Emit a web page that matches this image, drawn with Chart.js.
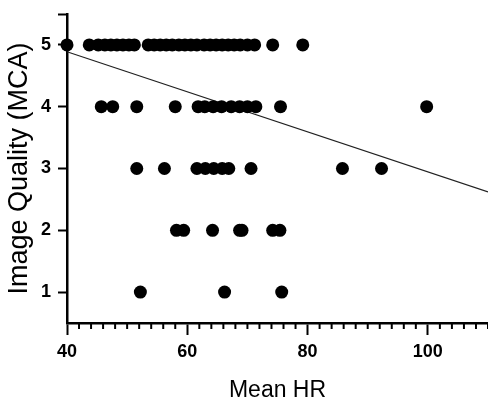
<!DOCTYPE html>
<html>
<head>
<meta charset="utf-8">
<script src="https://cdn.jsdelivr.net/npm/chart.js@4"></script>
<style>
  html, body { margin: 0; padding: 0; background: #fff; }
  #wrap { width: 488px; height: 398px; position: relative; }
</style>
</head>
<body>
<div id="wrap"><canvas id="chart"></canvas></div>
<script>
// Mean HR per image quality score (MCA)
const hrQ5 = [40, 43.7, 45.2, 46.3, 47.3, 48.3, 49.3, 50.3, 51.2, 53.5, 54.5, 55.5, 56.5, 57.5, 58.6,
  59.6, 60.6, 61.6, 62.8, 63.8, 64.8, 65.8, 66.8, 67.8, 68.8, 70, 71.2, 74.2, 79.2];
const hrQ4 = [45.7, 47.6, 51.6, 58, 61.8, 62.9, 64.3, 65.7, 67.3, 68.7, 70, 71.4, 75.5, 99.8];
const hrQ3 = [51.6, 56.2, 61.6, 63, 64.4, 65.8, 66.9, 70.6, 85.8, 92.3];
const hrQ2 = [58.2, 59.4, 64.2, 68.7, 69.1, 74.2, 75.4];
const hrQ1 = [52.2, 66.2, 75.7];

// linear fit end points
const fitX = [40, 110];
const fitY = [4.89, 2.62];

const xMin = 40, xMax = 110;
const yMin = 0.5, yMax = 5.5;
const yTicks = [1, 2, 3, 4, 5, 5.5];

const font = "'Liberation Sans', Arial, sans-serif";

const points = [];
[[5, hrQ5], [4, hrQ4], [3, hrQ3], [2, hrQ2], [1, hrQ1]].forEach(([q, arr]) => {
  arr.forEach(hr => points.push({ x: hr, y: q }));
});

// short minor ticks on the x axis
const minorTicks = {
  id: 'minorTicks',
  afterDraw(chart) {
    const x = chart.scales.x;
    const ctx = chart.ctx;
    ctx.save();
    ctx.strokeStyle = '#000';
    ctx.lineWidth = 2;
    x.ticks.forEach(t => {
      if (t.value % 20 === 0) return;
      const px = x.getPixelForValue(t.value);
      ctx.beginPath();
      ctx.moveTo(px, x.top);
      ctx.lineTo(px, x.top + 6);
      ctx.stroke();
    });
    ctx.restore();
  }
};

new Chart(document.getElementById('chart'), {
  type: 'scatter',
  data: {
    datasets: [
      {
        data: points,
        backgroundColor: '#000',
        borderWidth: 0,
        pointRadius: 6.5,
        clip: false
      },
      {
        type: 'line',
        data: fitX.map((x, i) => ({ x, y: fitY[i] })),
        borderColor: '#222',
        borderWidth: 1.2,
        pointRadius: 0,
        fill: false,
        clip: false
      }
    ]
  },
  options: {
    responsive: true,
    maintainAspectRatio: false,
    animation: false,
    layout: { autoPadding: false, padding: { top: 14, right: 0, left: 0, bottom: 0 } },
    plugins: { legend: { display: false }, tooltip: { enabled: false } },
    scales: {
      x: {
        type: 'linear',
        min: xMin,
        max: xMax,
        border: { color: '#000', width: 2.5 },
        grid: {
          drawOnChartArea: false,
          tickLength: 12,
          tickWidth: 2,
          tickColor: c => (c.tick && c.tick.value % 20 === 0) ? '#000' : 'rgba(0,0,0,0)'
        },
        ticks: {
          stepSize: 2,
          autoSkip: false,
          maxRotation: 0,
          padding: 6,
          color: '#000',
          font: { family: font, size: 18, weight: 'bold' },
          callback: v => v % 20 === 0 ? v : ''
        },
        title: {
          display: true,
          text: 'Mean HR',
          color: '#000',
          font: { family: font, size: 23, lineHeight: 0.6 },
          padding: { top: 0, bottom: 0 }
        },
        afterFit: s => { s.height = 75; s.paddingLeft = 0; s.paddingRight = 0; }
      },
      y: {
        type: 'linear',
        min: yMin,
        max: yMax,
        border: { color: '#000', width: 2.5 },
        grid: {
          drawOnChartArea: false,
          tickLength: 9,
          tickWidth: 2,
          tickColor: '#000'
        },
        afterBuildTicks: s => { s.ticks = yTicks.map(v => ({ value: v })); },
        ticks: {
          padding: 7,
          color: '#000',
          font: { family: font, size: 18, weight: 'bold' },
          callback: v => Number.isInteger(v) ? v : ''
        },
        title: {
          display: true,
          text: 'Image Quality (MCA)',
          color: '#000',
          font: { family: font, size: 27 },
          padding: { top: 3, bottom: 0 }
        },
        afterFit: s => { s.width = 67; s.paddingTop = 0; s.paddingBottom = 0; }
      }
    }
  },
  plugins: [minorTicks]
});
</script>
</body>
</html>
